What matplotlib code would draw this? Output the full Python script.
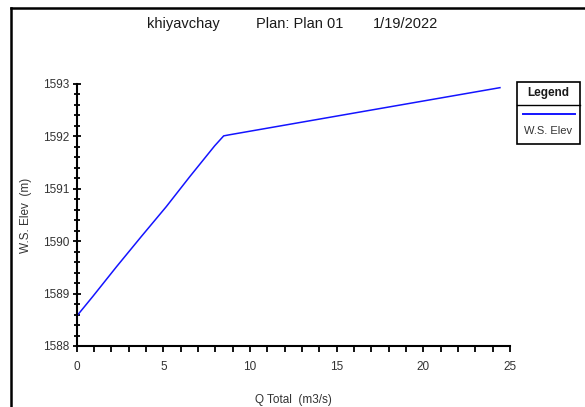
import matplotlib
matplotlib.use("Agg")
import matplotlib.pyplot as plt
from matplotlib.lines import Line2D
from matplotlib.patches import Rectangle
from matplotlib.ticker import MultipleLocator

# rating curve
q_total = [0.0, 0.94, 2.29, 3.73, 5.17, 6.52, 7.96, 8.48, 8.8, 16.6, 24.42]
ws_elev = [1588.57, 1588.95, 1589.51, 1590.09, 1590.66, 1591.23, 1591.82, 1592.01, 1592.03, 1592.48, 1592.93]

title_parts = ["khiyavchay", "Plan: Plan 01", "1/19/2022"]
x_label = "Q Total  (m3/s)"
y_label = "W.S. Elev  (m)"
series_name = "W.S. Elev"

plt.rcParams.update({
    "font.family": ["Liberation Sans", "DejaVu Sans"],
    "font.size": 8.5,
})

W, H = 585, 407
fig = plt.figure(figsize=(W / 100, H / 100), dpi=100)
ax = fig.add_axes([76.7 / W, 1 - 346 / H, (510 - 76.7) / W, (346 - 84) / H])

ax.plot(q_total, ws_elev, color="#1414ff", linewidth=1.1)

ax.set_xlim(0, 25)
ax.set_ylim(1588, 1593)
ax.xaxis.set_major_locator(MultipleLocator(5))
ax.xaxis.set_minor_locator(MultipleLocator(1))
ax.yaxis.set_major_locator(MultipleLocator(1))
ax.yaxis.set_minor_locator(MultipleLocator(0.2))

for side in ("top", "right"):
    ax.spines[side].set_visible(False)
for side in ("left", "bottom"):
    ax.spines[side].set_linewidth(1.5)

ax.tick_params(axis="x", which="major", direction="out", length=4.5, width=1.3,
               labelsize=8.5, labelcolor="#333333", pad=6)
ax.tick_params(axis="x", which="minor", direction="out", length=4, width=1.3)
ax.tick_params(axis="y", which="major", direction="inout", length=6, width=1.3,
               labelsize=8.5, labelcolor="#333333", pad=2)
ax.tick_params(axis="y", which="minor", direction="inout", length=4, width=1.3)

# title pieces, spaced like the original header
for xc, part in zip([183, 300, 406], title_parts):
    fig.text(xc / W, 1 - 24 / H, part, ha="center", va="center", fontsize=10.5, color="#1a1a1a")
fig.text(293 / W, 1 - 400 / H, x_label, ha="center", va="center", fontsize=8.5, color="#333333")
fig.text(26 / W, 1 - 215 / H, y_label, ha="center", va="center", fontsize=8.5,
         color="#333333", rotation=90)

# legend box
lx0, lx1, ly0, ly1, ldiv = 516.7, 580, 81.7, 144, 105
fig.add_artist(Rectangle((lx0 / W, 1 - ly1 / H), (lx1 - lx0) / W, (ly1 - ly0) / H,
                         transform=fig.transFigure, fill=False, edgecolor="black", linewidth=1.2))
fig.add_artist(Line2D([lx0 / W, lx1 / W], [1 - ldiv / H, 1 - ldiv / H],
                      transform=fig.transFigure, color="black", linewidth=1.0))
fig.text((lx0 + lx1) / 2 / W, 1 - 93 / H, "Legend", ha="center", va="center",
         fontsize=8.5, fontweight="bold", color="#1a1a1a")
fig.add_artist(Line2D([522.7 / W, 575 / W], [1 - 113.5 / H, 1 - 113.5 / H],
                      transform=fig.transFigure, color="#1414ff", linewidth=1.4))
fig.text((lx0 + lx1) / 2 / W, 1 - 131 / H, series_name, ha="center", va="center",
         fontsize=8, color="#333333")

# outer frame (left and top edges)
fig.add_artist(Line2D([11 / W, 11 / W], [0, 1 - 7.5 / H], transform=fig.transFigure,
                      color="black", linewidth=1.8))
fig.add_artist(Line2D([11 / W, 1], [1 - 7.5 / H, 1 - 7.5 / H], transform=fig.transFigure,
                      color="black", linewidth=1.8))

fig.savefig("out.png", dpi=100)
